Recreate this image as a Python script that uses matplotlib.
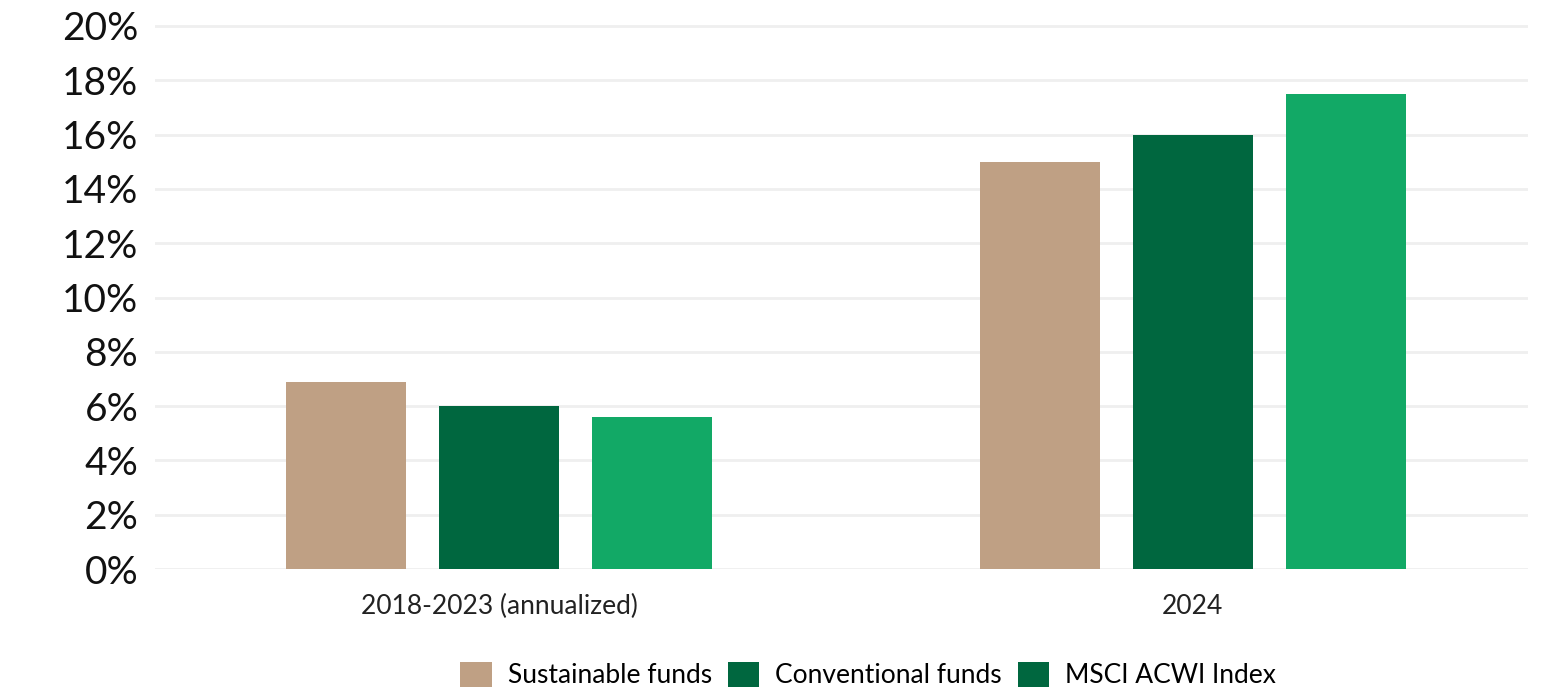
import matplotlib
matplotlib.use("Agg")
import matplotlib.pyplot as plt
from matplotlib.patches import Patch
import numpy as np

periods = ["2018-2023 (annualized)", "2024"]
series_names = ["Sustainable funds", "Conventional funds", "MSCI ACWI Index"]
sustainable = [6.9, 15.0]
conventional = [6.0, 16.0]
msci_acwi = [5.6, 17.5]
bar_colors = ["#BFA084", "#00673F", "#12A966"]
legend_colors = ["#BFA084", "#00673F", "#00673F"]
y_ticks = [0, 2, 4, 6, 8, 10, 12, 14, 16, 18, 20]

W, H = 1551, 693
fig = plt.figure(figsize=(W / 100, H / 100), dpi=100)
px_per_pct = 27.15
y0 = 569
ytop = 20.5
ax = fig.add_axes([155 / W, 1 - y0 / H, (1528 - 155) / W, ytop * px_per_pct / H])

x = np.arange(len(periods))
width = 0.174
pitch = 0.2205
for i, vals in enumerate([sustainable, conventional, msci_acwi]):
    ax.bar(x + (i - 1) * pitch, vals, width=width, color=bar_colors[i],
           zorder=3, linewidth=0)

ax.set_xlim(-0.496, 1.483)
ax.set_ylim(0, ytop)
ax.set_yticks(y_ticks)
ax.set_yticklabels([f"{v}%" for v in y_ticks], fontsize=28, family="Lato", color="#111111")
ax.set_xticks(x)
ax.set_xticklabels(periods, fontsize=19, family="Lato", color="#222222")
ax.tick_params(axis="both", length=0)
ax.tick_params(axis="y", pad=12)
ax.tick_params(axis="x", pad=18)
ax.grid(axis="y", color="#EFEFEF", linewidth=2, zorder=0)
for s in ax.spines.values():
    s.set_visible(False)

handles = [Patch(facecolor=c, edgecolor="none") for c in legend_colors]
fig.legend(handles, series_names, loc="center", bbox_to_anchor=(868 / W, 1 - 675 / H),
           ncol=3, frameon=False, handlelength=1.2, handleheight=1.1, handletextpad=0.6,
           columnspacing=0.6,
           prop={"family": "Lato", "size": 19})

fig.savefig("out.png", dpi=100, facecolor="white")
